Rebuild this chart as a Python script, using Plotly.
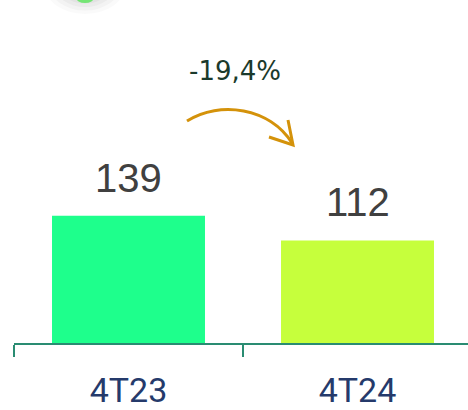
import plotly.graph_objects as go

categories = ["4T23", "4T24"]
values = [139, 112]
value_labels = ["139", "112"]
bar_colors = ["#1eff8c", "#c6ff3c"]
change_label = "-19,4%"

fig = go.Figure()
fig.add_trace(go.Bar(
    x=categories, y=values, marker=dict(color=bar_colors, line=dict(width=0)),
    width=0.668, hoverinfo="skip"
))

for c, v, t in zip(categories, values, value_labels):
    fig.add_annotation(x=c, y=v, text=t, showarrow=False, yanchor="bottom", yshift=14,
                       font=dict(family="Liberation Sans, Arial", size=40, color="#404040"))

# change label
fig.add_annotation(xref="paper", yref="paper", x=(234.5-14)/454, y=1-(71/343), text=change_label,
                   showarrow=False, xanchor="center", yanchor="middle",
                   font=dict(family="DejaVu Sans", size=26, color="#1b3a2c"))

def px(x, y):
    return (x-14)/454, 1 - y/343

# curved arrow
sx, sy = px(187, 121)
c1x, c1y = px(220, 100)
c2x, c2y = px(270, 108)
ex, ey = px(292, 143)
fig.add_shape(type="path", xref="paper", yref="paper",
              path=f"M {sx},{sy} C {c1x},{c1y} {c2x},{c2y} {ex},{ey}",
              line=dict(color="#d4920a", width=3))
hx1, hy1 = px(288, 120)
hx2, hy2 = px(269, 137)
tx, ty = px(293, 145)
fig.add_shape(type="path", xref="paper", yref="paper",
              path=f"M {hx1},{hy1} L {tx},{ty} L {hx2},{hy2}",
              line=dict(color="#d4920a", width=3))

# partial icon shadow at top
for r, op in [(40, 0.04), (35, 0.05), (30, 0.06), (25, 0.07), (20, 0.08)]:
    fig.add_shape(type="circle", xref="paper", yref="paper",
                  x0=(85 - r - 14)/454, x1=(85 + r - 14)/454,
                  y0=1 - (-14 + r*0.7)/343, y1=1 - (-14 - r*0.7)/343,
                  fillcolor=f"rgba(120,120,120,{op})", line=dict(width=0))
fig.add_shape(type="circle", xref="paper", yref="paper",
              x0=(76-14)/454, x1=(94-14)/454, y0=1-(3)/343, y1=1-(-8)/343,
              fillcolor="rgba(90,230,90,0.8)", line=dict(width=0))

fig.update_layout(
    width=468, height=410, margin=dict(l=14, r=0, t=0, b=67),
    paper_bgcolor="white", plot_bgcolor="white", showlegend=False,
    xaxis=dict(type="category", range=[-0.5, 1.4825], tickson="boundaries",
               ticks="outside", ticklen=12, tickwidth=2, tickcolor="#2a8c72",
               showline=True, linecolor="#2a8c72", linewidth=2, showgrid=False,
               tickfont=dict(family="Roboto", size=34, color="#253a6b"),
               ticklabelstandoff=16, automargin=False),
    yaxis=dict(range=[0, 374.5], visible=False, showgrid=False, zeroline=False,
               automargin=False),
)

fig.write_html("out.html", config={"displayModeBar": False},
               post_script="document.body.style.margin='0';")
